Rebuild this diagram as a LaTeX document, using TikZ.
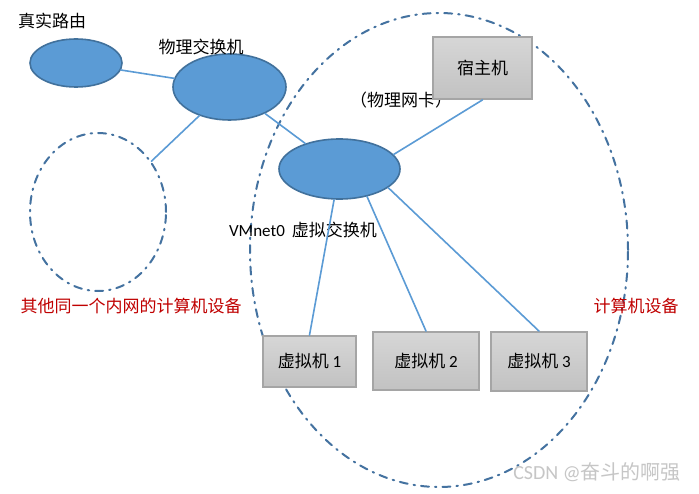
\documentclass[tikz,border=0pt]{standalone}
\usepackage{fontspec}
\setmainfont{Carlito}
\newfontfamily\cjk{Noto Sans CJK SC}
\usepackage{xcolor}
\definecolor{lan}{RGB}{91,155,213}
\definecolor{lanbian}{RGB}{65,113,156}
\definecolor{xu}{RGB}{68,114,160}
\definecolor{hong}{RGB}{192,0,0}
\definecolor{huibian}{RGB}{165,165,165}
\usepackage{tikz}
\usetikzlibrary{shapes.geometric}

\begin{document}
\begin{tikzpicture}[x=1pt,y=-1pt,line cap=round]
	\tikzstyle{jiaohuan}=[ellipse,draw=lanbian,fill=lan,line width=1.6pt,inner sep=0pt];
	\tikzstyle{jiqi}=[rectangle,draw=huibian,line width=1.8pt,top color=gray!32,bottom color=gray!48,inner sep=0pt,font=\fontsize{17}{19}\selectfont];
	\tikzstyle{xian}=[draw=lan,line width=1.6pt];
	\tikzstyle{xuxian}=[draw=xu,line width=2pt,dash pattern=on 8pt off 6pt on 1.5pt off 6pt];
	\tikzstyle{zi}=[inner sep=0pt,font=\fontsize{17}{19}\selectfont];
\newcommand{\hanzi}[1]{{\cjk #1}}
%<--------------------------------------------------------------------------->%

	\useasboundingbox[fill=white] (0,0) rectangle (699,494);
	\coordinate (LY)  at (76,63);
	\coordinate (WJ)  at (229.5,87);
	\coordinate (XJ)  at (339.5,169);
	\coordinate (QT)  at (98,212);
	\coordinate (JS)  at (439,250);
	%% areas
	\node[xuxian,ellipse,inner sep=0pt,minimum width=136,minimum height=158] (qita) at (QT) {};
	\node[xuxian,ellipse,inner sep=0pt,minimum width=378,minimum height=474] (jisuan) at (JS) {};
	%% switches
	\node[jiaohuan,minimum width=92,minimum height=48]  (luyou)   at (LY) {};
	\node[jiaohuan,minimum width=113,minimum height=66] (wuli)    at (WJ) {};
	\node[jiaohuan,minimum width=121,minimum height=60] (xuni)    at (XJ) {};
	%% labels
	\node[zi] (lyname)  at (52,21)   {\hanzi{真实路由}};
	\node[zi] (wlname)  at (201,47)  {\hanzi{物理交换机}};
	\node[zi] (wangka)  at (401,100) {\hanzi{（物理网卡）}};
	\node[zi] (xjname)  at (303,230) {VMnet0\hspace{7pt}\hanzi{虚拟交换机}};
	\node[zi,text=hong] (qtname) at (131,306) {\hanzi{其他同一个内网的计算机设备}};
	\node[zi,text=hong] (jsname) at (636,306) {\hanzi{计算机设备}};
	%% machines
	\node[jiqi,minimum width=99,minimum height=62]  (suzhu) at (482.5,68)  {\hanzi{宿主机}};
	\node[jiqi,minimum width=93,minimum height=51]  (xn1)   at (309.5,361.5) {\hanzi{虚拟机} 1};
	\node[jiqi,minimum width=106,minimum height=58] (xn2)   at (426,361)   {\hanzi{虚拟机} 2};
	\node[jiqi,minimum width=96,minimum height=59]  (xn3)   at (539,361.5) {\hanzi{虚拟机} 3};
	%% links
	\draw[xian] (luyou) -- (wuli);
	\draw[xian] (wuli) -- (qita);
	\draw[xian] (wuli) -- (xuni);
	\draw[xian] (xuni.15)   -- (suzhu.south);
	\draw[xian] (xuni.-100) -- (xn1.north);
	\draw[xian] (xuni.-45)  -- (xn2.north);
	\draw[xian] (xuni.-21)  -- (xn3.north);
	%% mark
	\node[zi,text=gray!45,font=\fontsize{20}{22}\selectfont] (shuiyin) at (597,472) {CSDN @\hanzi{奋斗的啊强}};
\end{tikzpicture}
\end{document}
